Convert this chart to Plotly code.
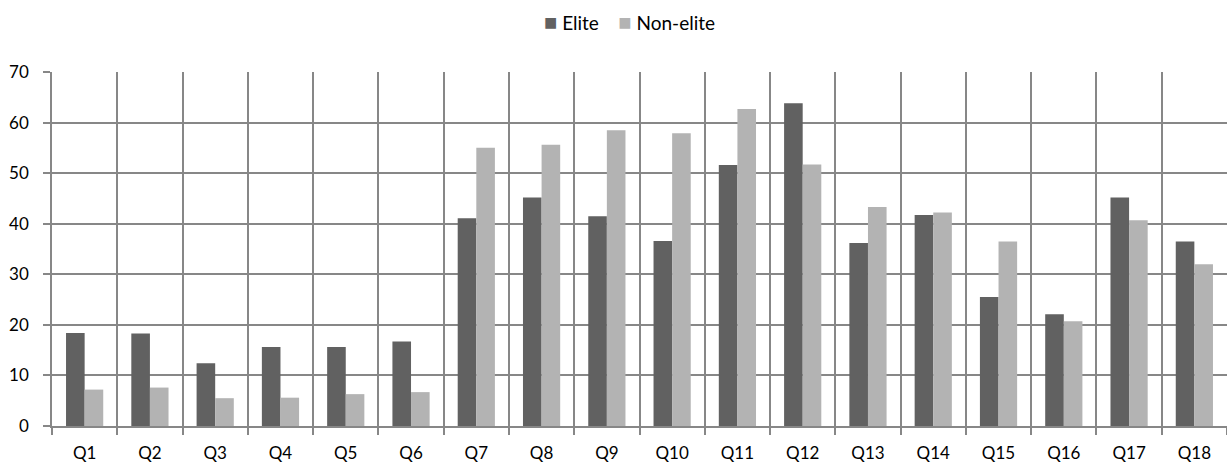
import plotly.graph_objects as go

categories = [f"Q{i}" for i in range(1, 19)]
elite = [18.4, 18.3, 12.4, 15.6, 15.6, 16.7, 41.1, 45.2, 41.5, 36.6,
         51.6, 63.8, 36.2, 41.7, 25.5, 22.1, 45.2, 36.5]
non_elite = [7.2, 7.6, 5.5, 5.6, 6.3, 6.7, 55.0, 55.6, 58.5, 57.9,
             62.7, 51.7, 43.3, 42.2, 36.5, 20.7, 40.7, 32.0]
y_ticks = [0, 10, 20, 30, 40, 50, 60, 70]

elite_color = "#616161"
non_elite_color = "#b3b3b3"
grid_color = "#878787"
font_family = "Lato, 'Open Sans', sans-serif"

fig = go.Figure()
fig.add_trace(go.Bar(name="Elite", x=categories, y=elite,
                     marker=dict(color=elite_color, line_width=0)))
fig.add_trace(go.Bar(name="Non-elite", x=categories, y=non_elite,
                     marker=dict(color=non_elite_color, line_width=0)))

# compact legend line above the plot
legend_text = (
    f"<span style='color:{elite_color};font-size:22px'>■</span>\u00a0Elite"
    "\u00a0\u00a0\u00a0\u00a0"
    f"<span style='color:{non_elite_color};font-size:22px'>■</span>\u00a0Non-elite"
)
fig.add_annotation(text=legend_text, xref="paper", yref="paper",
                   x=0.4915, y=1.144, xanchor="center", yanchor="middle",
                   showarrow=False, font=dict(size=19, color="#000000"))

fig.update_layout(
    width=1227, height=463,
    margin=dict(l=52, r=0, t=72, b=37),
    paper_bgcolor="white", plot_bgcolor="white",
    barmode="group", bargap=0.43, bargroupgap=0,
    font=dict(family=font_family, size=17, color="#000000"),
    showlegend=False,
)
fig.update_xaxes(
    type="category", tickson="boundaries",
    showgrid=True, gridcolor=grid_color, gridwidth=1.5,
    showline=True, linecolor=grid_color, linewidth=1.5,
    ticks="outside", ticklen=7, tickcolor=grid_color, tickwidth=1.5,
    ticklabelstandoff=11,
    tickfont=dict(size=17),
)
fig.update_yaxes(
    range=[0, 70], tickvals=y_ticks,
    showgrid=True, gridcolor=grid_color, gridwidth=1.5,
    zeroline=False,
    showline=True, linecolor=grid_color, linewidth=1.5,
    ticks="outside", ticklen=7, tickcolor=grid_color, tickwidth=1.5,
    ticklabelstandoff=11,
    tickfont=dict(size=17),
)

fig.write_html("out.html")
